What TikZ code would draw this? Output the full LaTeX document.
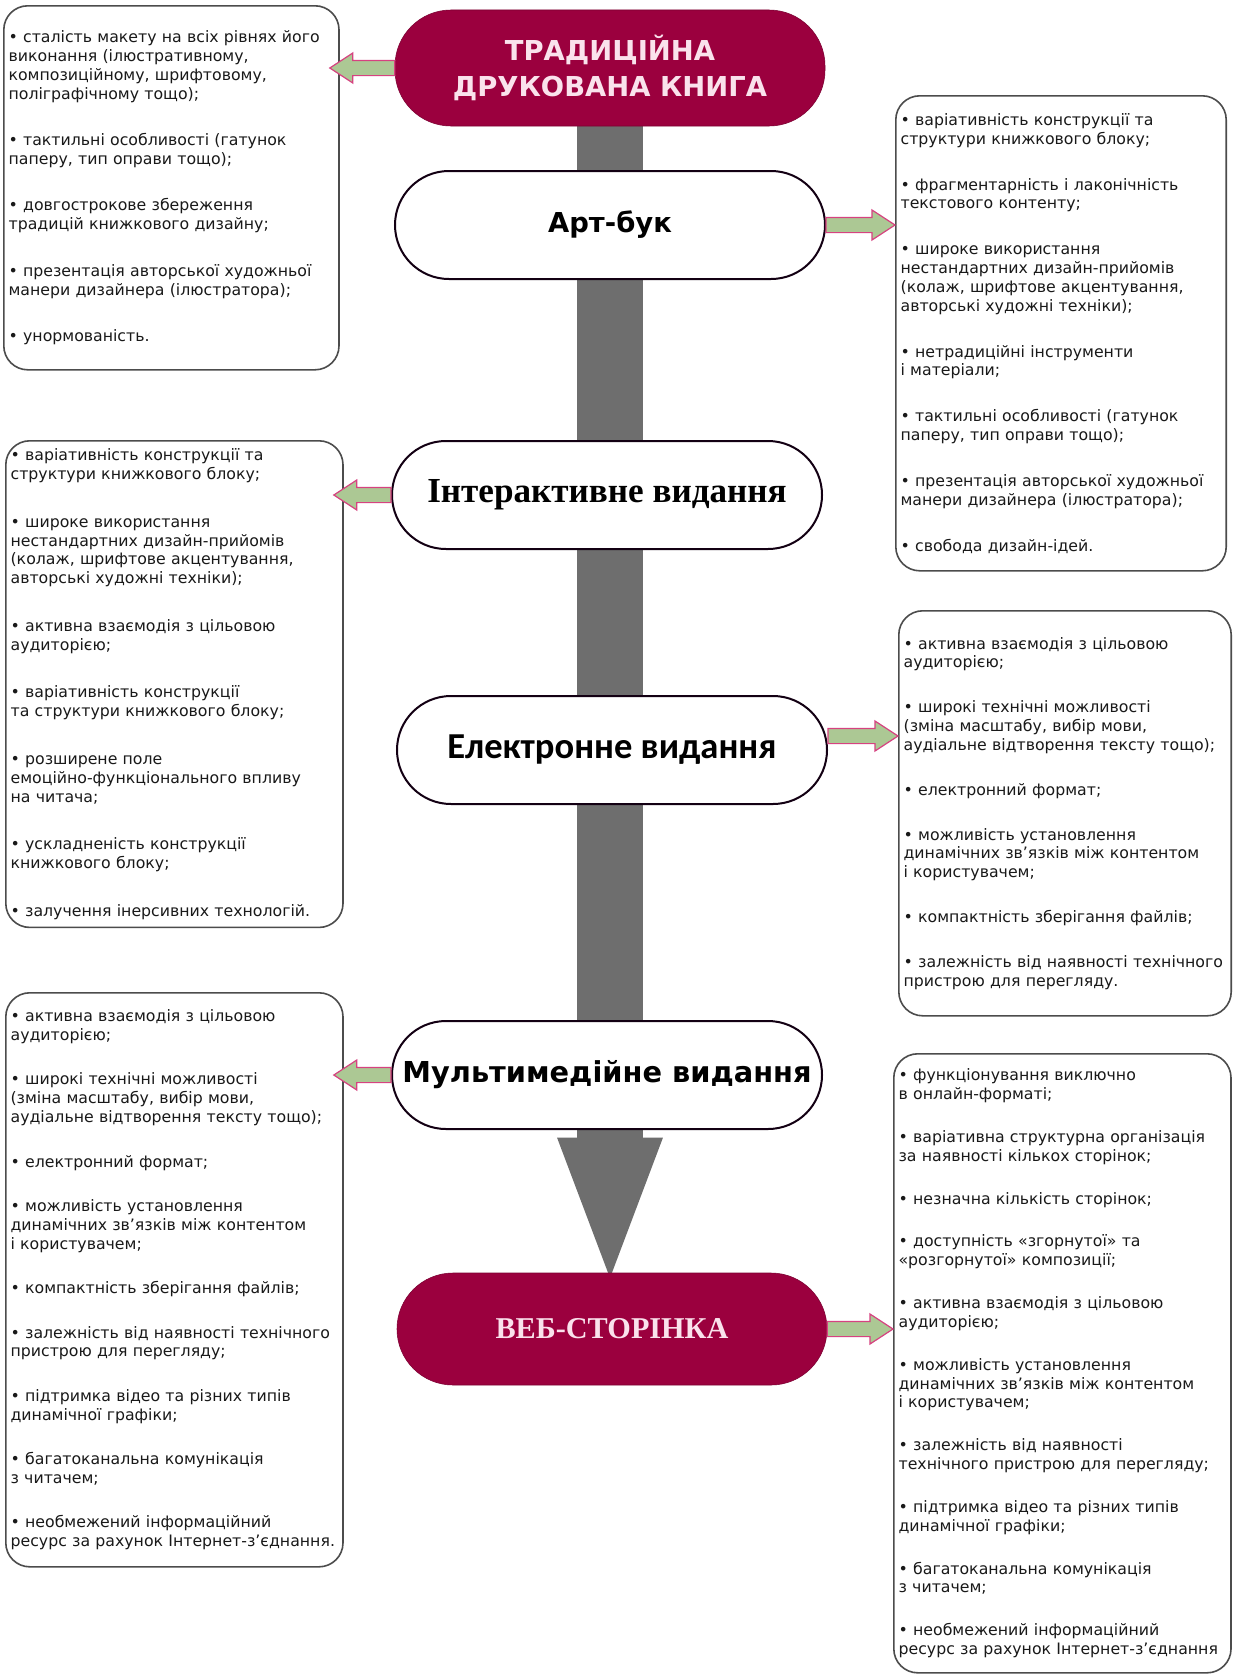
\documentclass[tikz,border=0pt]{standalone}
\usepackage{fontspec}
\setmainfont{DejaVu Sans}
\newfontfamily\serifb{Liberation Serif}
\newfontfamily\calib{Carlito}
\usetikzlibrary{arrows.meta,calc,backgrounds}
\definecolor{bordo}{RGB}{155,0,62}
\definecolor{rozh}{RGB}{250,226,236}
\definecolor{sir}{RGB}{110,110,110}
\definecolor{zel}{RGB}{172,200,148}
\definecolor{malin}{RGB}{214,66,128}
\tikzset{
  vid/.style={draw=black!85!violet,line width=0.5mm,fill=white,rounded corners=13.5mm,
    minimum width=107.5mm,minimum height=27mm,inner xsep=0pt},
  golov/.style={fill=bordo,draw=bordo!80!black,rounded corners=14mm,text=rozh,align=center,
    minimum width=107.5mm,minimum height=28mm,inner xsep=0pt},
  spys/.style={draw=black!70,line width=0.4mm,rounded corners=6mm,anchor=north west,
    align=left,inner xsep=1.2mm,inner ysep=2mm,text=black!90,
    font=\fontsize{11.2}{13.4}\selectfont,execute at begin node={\def\abzv{#1}}},
  spys/.default=6.6mm,
  strilka/.style={fill=zel,draw=malin,line width=0.3mm},
  stovbur/.style={draw=sir,line width=16.5mm,-{Triangle[width=23mm,length=38mm]}},
}
\newcommand{\abz}{\\[\abzv]}
\newcommand{\vkaz}[2]{%
  \coordinate (hb) at ($(#2)!5.75mm!(#1)$);
  \draw[strilka] ($(#1)!1.9mm!90:(#2)$) -- ($(hb)!1.9mm!90:(#2)$) -- ($(hb)!3.75mm!90:(#2)$)
    -- (#2) -- ($(hb)!3.75mm!-90:(#2)$) -- ($(hb)!1.9mm!-90:(#2)$) -- ($(#1)!1.9mm!-90:(#2)$) -- cycle;
}

\begin{document}
\begin{tikzpicture}[x=0.25mm,y=-0.25mm]
  \useasboundingbox (0,0) rectangle (1237,1677);
  % stupeni
  \node[golov,font=\bfseries\fontsize{19.5}{25}\selectfont,minimum height=29mm] (trad) at (610,68)
    {ТРАДИЦІЙНА\\ДРУКОВАНА КНИГА};
  \node[vid,font=\bfseries\fontsize{19.5}{24}\selectfont] (art) at (610,225) {Арт-бук};
  \node[vid,font=\serifb\bfseries\fontsize{25}{30}\selectfont] (inter) at (607,495) {Інтерактивне видання};
  \node[vid,font=\calib\bfseries\fontsize{26}{30}\selectfont] (elek) at (612,750) {Електронне видання};
  \node[vid,font=\bfseries\fontsize{20.5}{24}\selectfont] (multi) at (607,1075) {Мультимедійне видання};
  \node[golov,font=\serifb\bfseries\fontsize{21.5}{26}\selectfont] (web) at (612,1329)
    {ВЕБ-СТОРІНКА};
  % spysky
  \node[spys=6.9mm,text width=81.4mm,minimum height=91mm] (l1) at (3,5)
    {• сталість макету на всіх рівнях його\\виконання (ілюстративному,\\композиційному, шрифтовому,\\поліграфічному тощо);\abz
     • тактильні особливості (гатунок\\паперу, тип оправи тощо);\abz
     • довгострокове збереження\\традицій книжкового дизайну;\abz
     • презентація авторської художньої\\манери дизайнера (ілюстратора);\abz
     • унормованість.};
  \node[spys=6.75mm,text width=80.2mm,minimum height=118.75mm] (r1) at (895,95)
    {• варіативність конструкції та\\структури книжкового блоку;\abz
     • фрагментарність і лаконічність\\текстового контенту;\abz
     • широке використання\\нестандартних дизайн-прийомів\\(колаж, шрифтове акцентування,\\авторські художні техніки);\abz
     • нетрадиційні інструменти\\і матеріали;\abz
     • тактильні особливості (гатунок\\паперу, тип оправи тощо);\abz
     • презентація авторської художньої\\манери дизайнера (ілюстратора);\abz
     • свобода дизайн-ідей.};
  \node[spys=7.2mm,text width=81.9mm,minimum height=119.25mm] (l2) at (5,440)
    {• варіативність конструкції та\\структури книжкового блоку;\abz
     • широке використання\\нестандартних дизайн-прийомів\\(колаж, шрифтове акцентування,\\авторські художні техніки);\abz
     • активна взаємодія з цільовою\\аудиторією;\abz
     • варіативність конструкції\\та структури книжкового блоку;\abz
     • розширене поле\\емоційно-функціонального впливу\\на читача;\abz
     • ускладненість конструкції\\книжкового блоку;\abz
     • залучення інерсивних технологій.};
  \node[spys=6.5mm,text width=80.7mm,minimum height=101.25mm] (r2) at (898,610)
    {• активна взаємодія з цільовою\\аудиторією;\abz
     • широкі технічні можливості\\(зміна масштабу, вибір мови,\\аудіальне відтворення тексту тощо);\abz
     • електронний формат;\abz
     • можливість установлення\\динамічних зв'язків між контентом\\і користувачем;\abz
     • компактність зберігання файлів;\abz
     • залежність від наявності технічного\\пристрою для перегляду.};
  \node[spys=6.4mm,text width=81.9mm,minimum height=143.5mm] (l3) at (5,992)
    {• активна взаємодія з цільовою\\аудиторією;\abz
     • широкі технічні можливості\\(зміна масштабу, вибір мови,\\аудіальне відтворення тексту тощо);\abz
     • електронний формат;\abz
     • можливість установлення\\динамічних зв’язків між контентом\\і користувачем;\abz
     • компактність зберігання файлів;\abz
     • залежність від наявності технічного\\пристрою для перегляду;\abz
     • підтримка відео та різних типів\\динамічної графіки;\abz
     • багатоканальна комунікація\\з читачем;\abz
     • необмежений інформаційний\\ресурс за рахунок Інтернет-з’єднання.};
  \node[spys=6mm,text width=81.9mm,minimum height=154.75mm] (r3) at (893,1053)
    {• функціонування виключно\\в онлайн-форматі;\abz
     • варіативна структурна організація\\за наявності кількох сторінок;\abz
     • незначна кількість сторінок;\abz
     • доступність «згорнутої» та\\«розгорнутої» композиції;\abz
     • активна взаємодія з цільовою\\аудиторією;\abz
     • можливість установлення\\динамічних зв'язків між контентом\\і користувачем;\abz
     • залежність від наявності\\технічного пристрою для перегляду;\abz
     • підтримка відео та різних типів\\динамічної графіки;\abz
     • багатоканальна комунікація\\з читачем;\abz
     • необмежений інформаційний\\ресурс за рахунок Інтернет-з'єднання};
  % strilky
  \coordinate (k1) at ($(l1.east |- trad.west)+(-2.5mm,0)$);
  \coordinate (k3) at ($(l2.east |- inter.west)+(-2.5mm,0)$);
  \coordinate (k4) at ($(r2.west |- elek.east)+(0,3.5mm)$);
  \coordinate (k5) at ($(l3.east |- multi.west)+(-2.5mm,0)$);
  \vkaz{trad.west}{k1}
  \vkaz{art.east}{r1.west |- art.east}
  \vkaz{inter.west}{k3}
  \vkaz{[yshift=3.5mm]elek.east}{k4}
  \vkaz{multi.west}{k5}
  \vkaz{web.east}{r3.west |- web.east}
  \begin{scope}[on background layer]
    \fill[white] (0,0) rectangle (1237,1677);
    \draw[stovbur] (trad) -- ([yshift=-4.25mm]trad |- web.north);
  \end{scope}
\end{tikzpicture}
\end{document}
